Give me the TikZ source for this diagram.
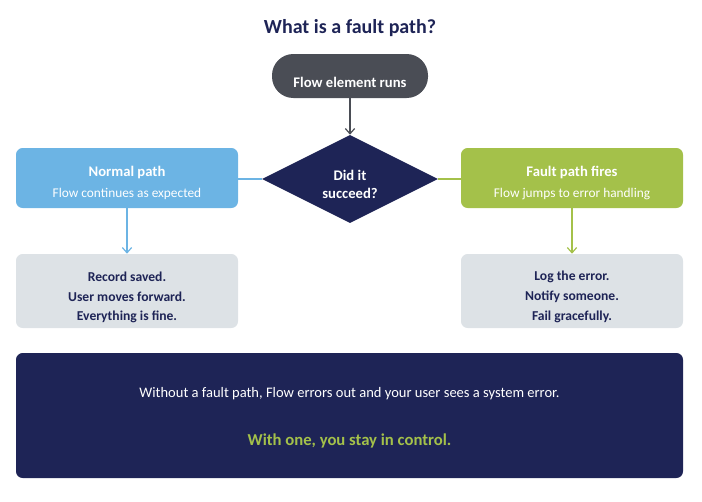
\documentclass[tikz,border=0pt]{standalone}
\usepackage{fontspec}
\setmainfont{Carlito}
\usetikzlibrary{shapes.geometric,arrows.meta}
\definecolor{navy}{HTML}{1E2456}
\definecolor{pill}{HTML}{4A4D55}
\definecolor{blu}{HTML}{6CB4E4}
\definecolor{grn}{HTML}{A4C14A}
\definecolor{gry}{HTML}{DDE2E6}
\tikzset{
 box/.style={draw=none,rounded corners=5pt,minimum width=222*0.75pt,align=center,inner sep=0pt},
 tip/.style={-{Straight Barb[length=4pt,width=7pt]},line width=0.9pt},
 bt/.style={font=\fontsize{11}{12}\selectfont\bfseries},
 st/.style={font=\fontsize{10}{12}\selectfont},
 gt/.style={font=\fontsize{10.2}{12}\selectfont\bfseries,text=navy},
}
\begin{document}
\begin{tikzpicture}[x=0.75pt,y=-0.75pt]
\useasboundingbox (0,0) rectangle (702,501);
\node (title) at (350,28) {\fontsize{15}{16}\selectfont\bfseries\color{navy}What is a fault path?};
\node[box,fill=pill,rounded corners=16pt,minimum width=156*0.75pt,minimum height=44*0.75pt] (run) at (350,76) {};
\node[bt,text=white] (runt) at (350,82) {Flow element runs};
\node[diamond,fill=navy,minimum width=176*0.75pt,minimum height=88*0.75pt,inner sep=0pt] (dec) at (350,179) {};
\node[bt,text=white] (d1) at (350,175) {Did it};
\node[bt,text=white] (d2) at (350,193) {succeed?};
\node[box,fill=blu,minimum height=60*0.75pt] (np) at (127,178) {};
\node[bt,text=white] (np1) at (127,172) {Normal path};
\node[st,text=white] (np2) at (127,194) {Flow continues as expected};
\node[box,fill=grn,minimum height=60*0.75pt] (fp) at (572,178) {};
\node[bt,text=white] (fp1) at (572,172) {Fault path fires};
\node[st,text=white] (fp2) at (572,194) {Flow jumps to error handling};
\node[box,fill=gry,minimum height=74*0.75pt] (ok) at (127,291) {};
\node[gt] (ok1) at (127,277) {Record saved.};
\node[gt] (ok2) at (127,297) {User moves forward.};
\node[gt] (ok3) at (127,317) {Everything is fine.};
\node[box,fill=gry,minimum height=74*0.75pt] (err) at (572,291) {};
\node[gt] (e1) at (572,277) {Log the error.};
\node[gt] (e2) at (572,297) {Notify someone.};
\node[gt] (e3) at (572,317) {Fail gracefully.};
\node[box,fill=navy,minimum width=667*0.75pt,minimum height=125*0.75pt] (foot) at (349.5,415.5) {};
\node[text=white,font=\fontsize{10.9}{12}\selectfont] (t1) at (349.5,394) {Without a fault path, Flow errors out and your user sees a system error.};
\node[text=grn,font=\fontsize{12.5}{14}\selectfont\bfseries] (t2) at (349.5,441) {With one, you stay in control.};
\draw[tip,draw=pill] (run) -- (dec);
\draw[blu,line width=1pt] (dec.west) -- (np.east |- dec.west);
\draw[grn,line width=1pt] (dec.east) -- (fp.west |- dec.east);
\draw[tip,draw=blu] (np) -- (ok);
\draw[tip,draw=grn] (fp) -- (err);
\end{tikzpicture}
\end{document}
